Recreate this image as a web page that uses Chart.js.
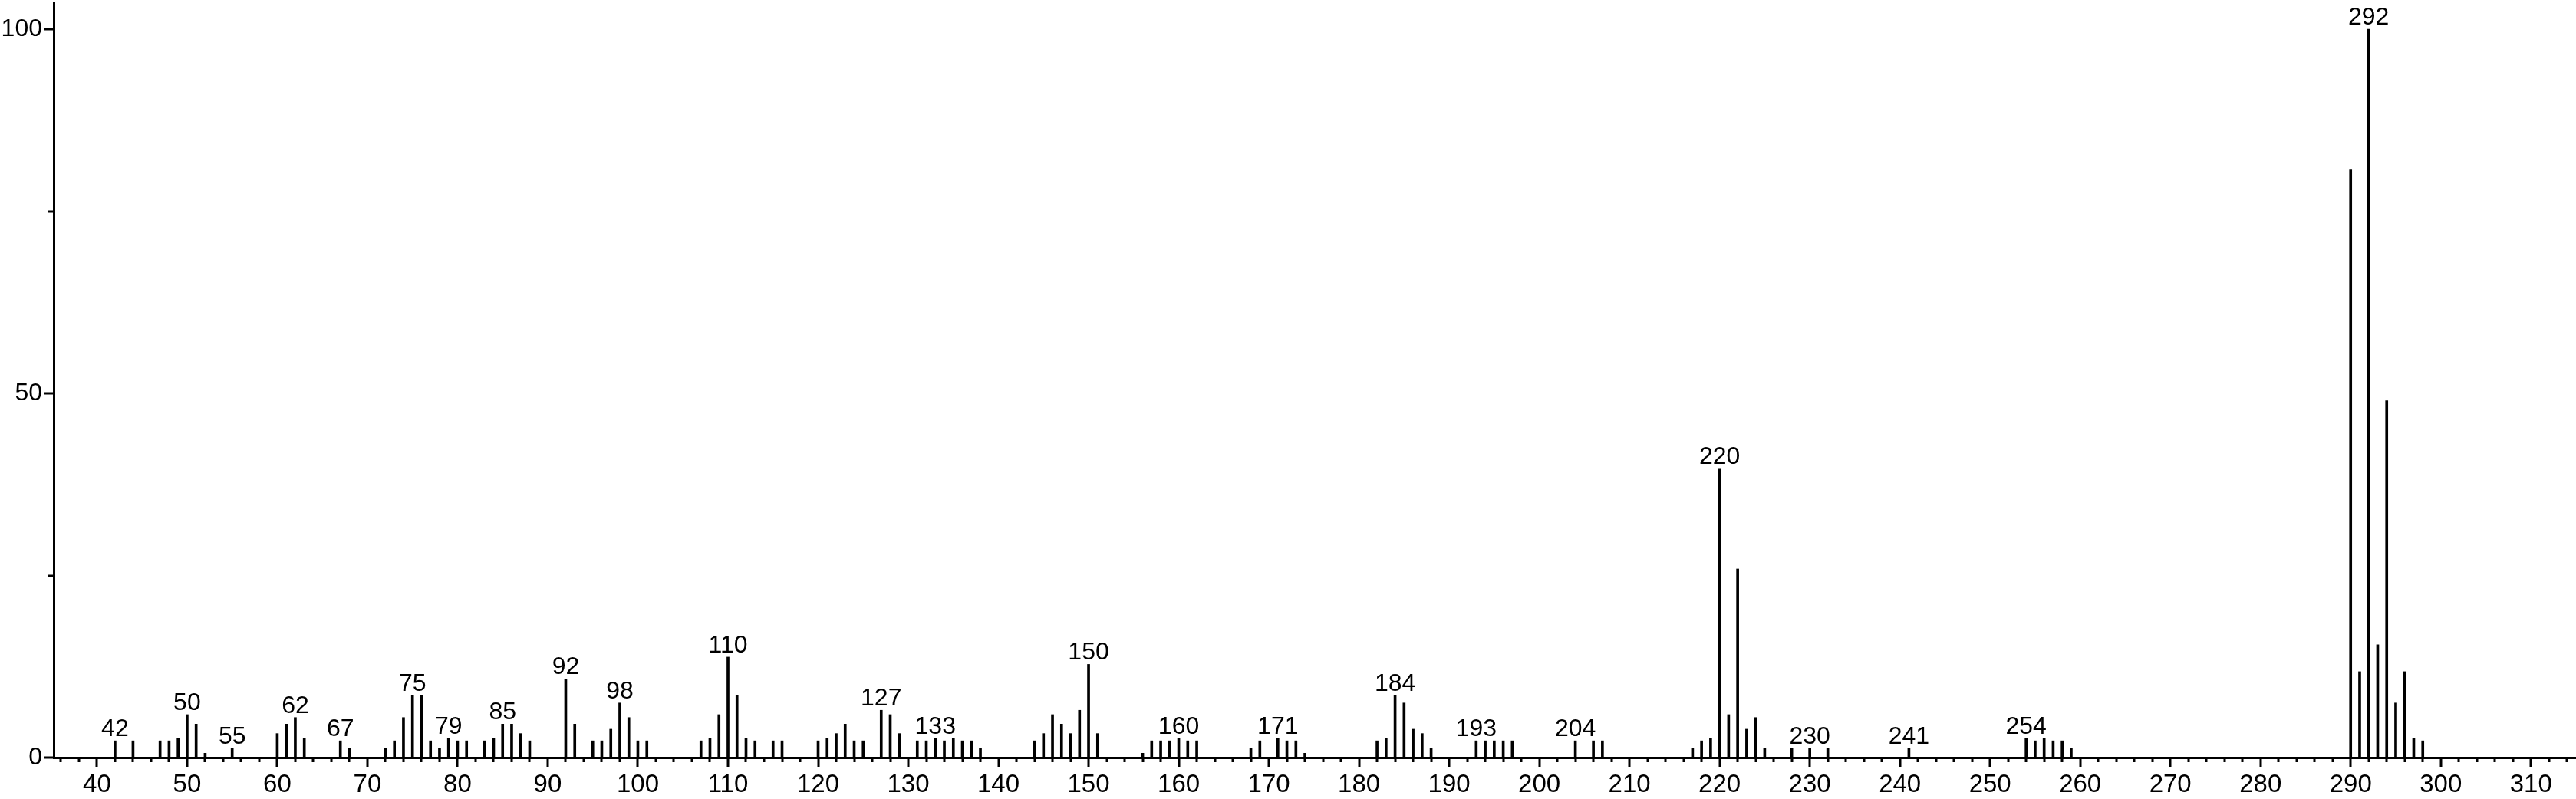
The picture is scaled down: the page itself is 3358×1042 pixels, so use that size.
<!DOCTYPE html>
<html>
<head>
<meta charset="utf-8">
<title>Mass spectrum</title>
<script src="https://cdn.jsdelivr.net/npm/chart.js@4/dist/chart.umd.min.js"></script>
<style>
    html, body { margin: 0; padding: 0; background: #fff; }
    canvas { display: block; }
</style>
</head>
<body>
<canvas id="spectrum-chart" width="3358" height="1042"></canvas>
<script>
// /---------------Spectrum data (m/z and relative intensity)----------/
const masses = [
    42, 44, 47, 48, 49, 50, 51, 52, 55, 60, 61, 62, 63, 67, 68,
    72, 73, 74, 75, 76, 77, 78, 79, 80, 81, 83, 84, 85, 86, 87, 88,
    92, 93, 95, 96, 97, 98, 99, 100, 101,
    107, 108, 109, 110, 111, 112, 113, 115, 116,
    120, 121, 122, 123, 124, 125, 127, 128, 129,
    131, 132, 133, 134, 135, 136, 137, 138,
    144, 145, 146, 147, 148, 149, 150, 151,
    156, 157, 158, 159, 160, 161, 162, 168, 169, 171, 172, 173, 174,
    182, 183, 184, 185, 186, 187, 188, 193, 194, 195, 196, 197, 204, 206, 207,
    217, 218, 219, 220, 221, 222, 223, 224, 225, 228, 230, 232, 241,
    254, 255, 256, 257, 258, 259,
    290, 291, 292, 293, 294, 295, 296, 297, 298
];
const intensities = [
    2.3, 2.3, 2.3, 2.3, 2.6, 5.9, 4.6, 0.6, 1.3, 3.3, 4.6, 5.5, 2.6, 2.3, 1.3,
    1.3, 2.3, 5.5, 8.5, 8.5, 2.3, 1.3, 2.6, 2.3, 2.3, 2.3, 2.6, 4.6, 4.6, 3.3, 2.3,
    10.8, 4.6, 2.3, 2.3, 3.9, 7.5, 5.5, 2.3, 2.3,
    2.3, 2.6, 5.9, 13.8, 8.5, 2.6, 2.3, 2.3, 2.3,
    2.3, 2.6, 3.3, 4.6, 2.3, 2.3, 6.5, 5.9, 3.3,
    2.3, 2.3, 2.6, 2.3, 2.6, 2.3, 2.3, 1.3,
    2.3, 3.3, 5.9, 4.6, 3.3, 6.5, 12.8, 3.3,
    0.6, 2.3, 2.3, 2.3, 2.6, 2.3, 2.3, 1.3, 2.3, 2.6, 2.3, 2.3, 0.6,
    2.3, 2.6, 8.5, 7.5, 3.9, 3.3, 1.3, 2.3, 2.3, 2.3, 2.3, 2.3, 2.3, 2.3, 2.3,
    1.3, 2.3, 2.6, 39.7, 5.9, 25.9, 3.9, 5.5, 1.3, 1.3, 1.3, 1.3, 1.3,
    2.6, 2.3, 2.6, 2.3, 2.3, 1.3,
    80.7, 11.8, 100, 15.5, 49, 7.5, 11.8, 2.6, 2.3
];

// peaks that carry their m/z above the line
const peakLabels = [42, 50, 55, 62, 67, 75, 79, 85, 92, 98, 110, 127, 133, 150,
    160, 171, 184, 193, 204, 220, 230, 241, 254, 292];

// /---------------Axis ticks----------/
const xTicks = [];
for (let m = 36; m <= 314; m += 2) xTicks.push(m);
const yTicks = [0, 25, 50, 75, 100];

const fontFamily = "'Liberation Sans', Arial, sans-serif";
const ink = '#000';

// /---------------Plugins----------/
// short/long tick marks outside the axes
const tickMarks = {
    id: 'tickMarks',
    afterDraw(chart) {
        const ctx = chart.ctx;
        const area = chart.chartArea;
        const x = chart.scales.x;
        const y = chart.scales.y;
        ctx.save();
        ctx.strokeStyle = ink;
        ctx.lineWidth = 3;
        ctx.beginPath();
        x.ticks.forEach(t => {
            const px = Math.round(x.getPixelForValue(t.value));
            const len = t.value % 10 === 0 ? 12 : 6;
            ctx.moveTo(px, area.bottom);
            ctx.lineTo(px, area.bottom + len);
        });
        y.ticks.forEach(t => {
            const py = Math.round(y.getPixelForValue(t.value));
            const len = t.value % 50 === 0 ? 13 : 7;
            ctx.moveTo(area.left, py);
            ctx.lineTo(area.left - len, py);
        });
        ctx.stroke();
        ctx.restore();
    }
};

// m/z numbers above the labelled peaks
const peakText = {
    id: 'peakText',
    afterDatasetsDraw(chart) {
        const ctx = chart.ctx;
        const meta = chart.getDatasetMeta(0);
        ctx.save();
        ctx.fillStyle = ink;
        ctx.font = '32px ' + fontFamily;
        ctx.textAlign = 'center';
        ctx.textBaseline = 'alphabetic';
        peakLabels.forEach(m => {
            const bar = meta.data[masses.indexOf(m)];
            if (!bar) return;
            ctx.fillText(String(m), bar.x, bar.y - 6);
        });
        ctx.restore();
    }
};

// /---------------Chart----------/
const spectrumCtx = document.querySelector('#spectrum-chart').getContext('2d');

const spectrum = new Chart(spectrumCtx, {
    type: 'bar',
    data: {
        datasets: [{
            data: masses.map((m, i) => ({ x: m, y: intensities[i] })),
            backgroundColor: ink,
            borderWidth: 0,
            barThickness: 3,
            grouped: false
        }]
    },
    options: {
        responsive: false,
        animation: false,
        events: [],
        layout: {
            padding: { top: 3, right: 0, bottom: 0, left: 0 }
        },
        scales: {
            x: {
                type: 'linear',
                min: 35.2,
                max: 315,
                offset: false,
                grid: { display: false, drawTicks: false },
                border: { display: true, color: ink, width: 3 },
                afterBuildTicks: scale => {
                    scale.ticks = xTicks.map(v => ({ value: v }));
                },
                afterFit: scale => {
                    scale.height = 54;
                    scale.paddingLeft = 0;
                    scale.paddingRight = 0;
                },
                ticks: {
                    autoSkip: false,
                    maxRotation: 0,
                    padding: 16,
                    color: ink,
                    font: { family: fontFamily, size: 33 },
                    callback: v => (v % 10 === 0 ? String(v) : '')
                }
            },
            y: {
                min: 0,
                max: 103.7,
                grid: { display: false, drawTicks: false },
                border: { display: true, color: ink, width: 3 },
                afterBuildTicks: scale => {
                    scale.ticks = yTicks.map(v => ({ value: v }));
                },
                afterFit: scale => {
                    scale.width = 70;
                    scale.paddingTop = 0;
                    scale.paddingBottom = 0;
                },
                ticks: {
                    padding: 15,
                    color: ink,
                    font: { family: fontFamily, size: 32 },
                    callback: v => (v % 50 === 0 ? String(v) : '')
                }
            }
        },
        plugins: {
            legend: { display: false },
            tooltip: { enabled: false }
        }
    },
    plugins: [tickMarks, peakText]
});
</script>
</body>
</html>
